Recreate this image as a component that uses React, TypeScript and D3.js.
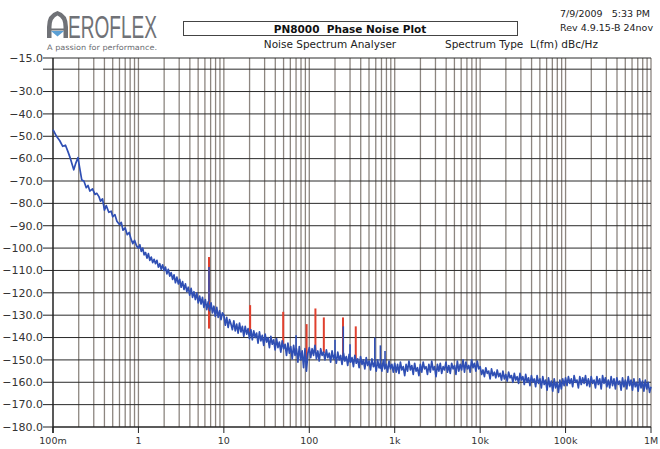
import React, { useRef, useEffect } from 'react';
import * as d3 from 'd3';

// y axis ticks (dBc/Hz); -20 gets a tick but no label
const yTicks = [-15, -20, -30, -40, -50, -60, -70, -80, -90, -100, -110, -120, -130, -140, -150, -160, -170, -180];
const yUnlabelled = [-20];
const xTickValues = [0.1, 1, 10, 100, 1e3, 1e4, 1e5, 1e6];
const xTickLabels = ['100m', '1', '10', '100', '1k', '10k', '100k', '1M'];

// first decade read point by point [Hz, dBc/Hz]
const traceLow: [number, number][] = [
    [0.1, -47], [0.11, -50], [0.12, -52], [0.13, -54.5], [0.14, -54], [0.15, -57], [0.16, -60],
    [0.175, -65], [0.185, -62], [0.196, -59.5], [0.205, -64], [0.217, -69.5], [0.23, -70],
    [0.245, -73], [0.257, -72], [0.27, -74.5], [0.29, -73.5], [0.31, -76], [0.325, -75.5],
    [0.345, -77], [0.36, -79], [0.38, -78], [0.4, -83], [0.42, -81], [0.45, -84], [0.48, -83.5],
    [0.5, -86], [0.53, -85], [0.56, -88], [0.6, -89.5], [0.63, -88.5], [0.66, -92], [0.7, -91],
    [0.74, -94], [0.78, -93], [0.82, -96], [0.86, -98], [0.9, -96.5], [0.95, -99],
];

// dense decades: 60 readings each, log-spaced inside the decade
const trace1to10 = [
    -100, -98.5, -101.5, -100, -103, -102, -104.5, -102.5, -105.5, -104,
    -106.5, -105, -107, -105.5, -108.5, -107, -109.5, -107.5, -110, -108.5,
    -111.5, -109.5, -112.5, -111, -114, -112, -115.5, -113, -116, -114,
    -117.5, -115, -118.5, -116, -119.5, -117.5, -121, -118, -122, -119.5,
    -123, -120, -124.5, -121.5, -125, -122, -126.5, -123, -127.5, -124,
    -128, -124.5, -129, -126, -130.5, -126.5, -131, -128, -132, -129,
];
const trace10to100 = [
    -130, -134.5, -131, -135.5, -132, -134, -136.5, -132.5, -137, -134,
    -138, -133.5, -137.5, -135, -139.5, -135, -138.5, -136, -140.5, -136.5,
    -141, -137, -140, -138, -142.5, -137.5, -141.5, -139, -143.5, -138.5,
    -142, -140, -144.5, -139.5, -143, -141, -145.5, -140.5, -144.5, -142,
    -146.5, -141.5, -145, -143, -148, -142.5, -147, -144, -149.5, -143.5,
    -148, -145, -151, -144, -150, -146, -153.5, -145, -155, -147,
];
const trace100to1k = [
    -144.5, -149, -145, -148, -143.5, -149.5, -146, -150.5, -145, -148,
    -146.5, -150, -145.5, -149, -147, -151, -146, -149.5, -147.5, -151.5,
    -146.5, -150, -148, -152, -147, -150.5, -148.5, -152.5, -147.5, -151,
    -149, -153, -148, -151.5, -149.5, -153.5, -148.5, -152, -150, -154,
    -149, -152.5, -150.5, -154.5, -149.5, -153, -151, -155, -150, -153.5,
    -151.5, -155, -150, -154, -152, -155.5, -150.5, -154, -152, -155.5,
];
const trace1kto10k = [
    -151.5, -155.5, -152, -156, -151, -154.5, -153, -157, -152, -155,
    -150.5, -154.5, -152.5, -156.5, -151.5, -155, -153.5, -157, -152, -155.5,
    -151, -154, -153, -156.5, -152, -155.5, -150.5, -154.5, -153, -157.5,
    -152, -155, -151.5, -156, -153, -154.5, -151, -155.5, -152.5, -156,
    -151.5, -154, -152.5, -156.5, -150.5, -155, -152, -154.5, -150, -155.5,
    -151, -154, -152.5, -155.5, -150, -153.5, -151.5, -155, -150.5, -154,
];
const trace10kto100k = [
    -153, -156.5, -154.5, -157.5, -153.5, -156, -155, -158.5, -154, -157,
    -155.5, -158, -154.5, -157.5, -156, -159, -155, -158.5, -156.5, -159.5,
    -155.5, -158, -157, -160, -156, -159, -157.5, -160.5, -156, -159,
    -157.5, -161, -156.5, -160, -158, -161.5, -157, -160, -158.5, -162,
    -157, -160.5, -158.5, -162.5, -157.5, -161, -159, -163.5, -158, -162,
    -159.5, -164, -158.5, -162.5, -160, -164.5, -159, -163, -158.5, -161.5,
];
const trace100kto1M = [
    -158, -161.5, -157.5, -160.5, -158.5, -162, -157, -160, -159, -162.5,
    -157.5, -161, -158, -160.5, -157, -161.5, -158.5, -162, -157.5, -160.5,
    -159, -162.5, -157.5, -161, -158.5, -163, -157, -160.5, -158, -162,
    -159, -162.5, -157.5, -161.5, -158.5, -163, -158, -161, -159.5, -163.5,
    -158, -162, -159, -163, -157.5, -161.5, -159, -163.5, -158.5, -162,
    -160, -164, -158.5, -162.5, -159.5, -164, -159, -163, -160, -164.5,
];
const traceEnd: [number, number] = [1e6, -162];

// spurs [Hz, top, bottom]
const redSpurs: [number, number, number][] = [
    [6.7, -104, -136], [20.3, -125.5, -138], [49.5, -128.5, -143], [93, -134, -150],
    [118, -127, -146], [148, -131, -147], [248, -131, -149], [350, -135, -150],
];
const blueSpurs: [number, number, number][] = [
    [6.7, -108.5, -124], [70, -139, -147], [200, -141, -149], [250, -135, -150],
    [300, -143, -151], [585, -140, -153], [680, -143.5, -154], [770, -146, -154],
];

const decade = (start: number, values: number[]): [number, number][] =>
    values.map((v, i) => [start * Math.pow(10, i / values.length), v]);

const W = 660;
const H = 449;
const font = 'DejaVu Sans, Verdana, sans-serif';

const App: React.FC = () => {
    const svgRef = useRef<SVGSVGElement>(null);

    useEffect(() => {
        if (!svgRef.current) return;
        const svg = d3.select(svgRef.current);
        svg.selectAll('*').remove();

        const x = d3.scaleLog().domain([0.1, 1e6]).range([53, 651]);
        const y = d3.scaleLinear().domain([-180, -15]).range([427, 58]);

        svg.append('rect').attr('width', W).attr('height', H).attr('fill', '#fff');

        // ---- header ----
        const logo = svg.append('g');
        logo.append('path')
            .attr('d', 'M47,38 L47,27 Q47,14 57.5,11 Q68,14 68,27 L68,38 L63.5,38 L63.5,27 Q63.5,18 57.5,15.5 Q51.5,18 51.5,27 L51.5,38 Z')
            .attr('fill', '#707277');
        logo.append('rect').attr('x', 49).attr('y', 28.5).attr('width', 17).attr('height', 2).attr('fill', '#707277');
        logo.append('path').attr('d', 'M51,31 L64,31 L57.5,36.5 Z').attr('fill', '#5b9fd4');
        logo.append('text')
            .attr('x', 68).attr('y', 37.5)
            .attr('font-family', 'Liberation Sans, Arial, sans-serif')
            .attr('font-size', 31)
            .attr('textLength', 89).attr('lengthAdjust', 'spacingAndGlyphs')
            .attr('fill', '#707277')
            .text('EROFLEX');
        logo.append('text')
            .attr('x', 47).attr('y', 50)
            .attr('font-family', font).attr('font-size', 7.5)
            .attr('textLength', 110).attr('lengthAdjust', 'spacingAndGlyphs')
            .attr('fill', '#6b6d72')
            .text('A passion for performance.');

        svg.append('rect')
            .attr('x', 183.5).attr('y', 21.5).attr('width', 334).attr('height', 14)
            .attr('fill', 'none').attr('stroke', '#444').attr('stroke-width', 1);
        svg.append('text')
            .attr('x', 350).attr('y', 32.5).attr('text-anchor', 'middle')
            .attr('font-family', font).attr('font-size', 10.5).attr('font-weight', 'bold')
            .attr('fill', '#111')
            .style('white-space', 'pre')
            .text('PN8000  Phase Noise Plot');
        svg.append('text')
            .attr('x', 330).attr('y', 48).attr('text-anchor', 'middle')
            .attr('font-family', font).attr('font-size', 10.5).attr('fill', '#222')
            .text('Noise Spectrum Analyser');
        svg.append('text')
            .attr('x', 445).attr('y', 48)
            .attr('font-family', font).attr('font-size', 10.5).attr('fill', '#222')
            .style('white-space', 'pre')
            .text('Spectrum Type  L(fm) dBc/Hz');
        svg.append('text')
            .attr('x', 560).attr('y', 17)
            .attr('font-family', font).attr('font-size', 9.5).attr('fill', '#222')
            .style('white-space', 'pre')
            .text('7/9/2009   5:33 PM');
        svg.append('text')
            .attr('x', 560).attr('y', 30.5)
            .attr('font-family', font).attr('font-size', 9.5).attr('fill', '#222')
            .text('Rev 4.9.15-B 24nov');

        // ---- grid ----
        const grid = svg.append('g');
        const minor: number[] = [];
        for (let d = 0.1; d < 1e6; d *= 10) {
            for (let k = 2; k <= 10; k++) minor.push(d * k);
        }
        grid.selectAll('line.v').data(minor).enter().append('line')
            .attr('x1', d => x(d)).attr('x2', d => x(d))
            .attr('y1', y(-15)).attr('y2', y(-180))
            .attr('stroke', '#8d8680').attr('stroke-width', 1.3);
        grid.selectAll('line.h').data(yTicks).enter().append('line')
            .attr('x1', x(0.1)).attr('x2', x(1e6))
            .attr('y1', d => y(d)).attr('y2', d => y(d))
            .attr('stroke', '#2a2a2a').attr('stroke-width', 1);

        // ---- y axis ----
        const yAxis = svg.append('g');
        yAxis.append('line')
            .attr('x1', x(0.1)).attr('x2', x(0.1)).attr('y1', y(-15)).attr('y2', y(-180) + 6)
            .attr('stroke', '#222').attr('stroke-width', 1.5);
        yAxis.selectAll('line.t').data(yTicks).enter().append('line')
            .attr('x1', x(0.1) - 10).attr('x2', x(0.1))
            .attr('y1', d => y(d)).attr('y2', d => y(d))
            .attr('stroke', '#222').attr('stroke-width', 1);
        yAxis.selectAll('text').data(yTicks.filter(t => !yUnlabelled.includes(t))).enter().append('text')
            .attr('x', x(0.1) - 10).attr('y', d => y(d)).attr('dy', '0.35em')
            .attr('text-anchor', 'end')
            .attr('font-family', font).attr('font-size', 11).attr('fill', '#333')
            .text(d => d3.format('.1f')(d));

        // ---- x axis ----
        const xAxis = svg.append('g');
        xAxis.append('line')
            .attr('x1', x(0.1)).attr('x2', x(1e6)).attr('y1', y(-180)).attr('y2', y(-180))
            .attr('stroke', '#222').attr('stroke-width', 1.2);
        xAxis.selectAll('line.t').data(xTickValues).enter().append('line')
            .attr('x1', d => x(d)).attr('x2', d => x(d))
            .attr('y1', y(-180)).attr('y2', y(-180) + 6)
            .attr('stroke', '#222').attr('stroke-width', 1);
        xAxis.selectAll('text').data(xTickValues).enter().append('text')
            .attr('x', d => x(d)).attr('y', 444)
            .attr('text-anchor', 'middle')
            .attr('font-family', font).attr('font-size', 9.5).attr('fill', '#333')
            .text((_, i) => xTickLabels[i]);

        // ---- spurs + trace ----
        const plot = svg.append('g');
        plot.selectAll('line.red').data(redSpurs).enter().append('line')
            .attr('x1', d => x(d[0])).attr('x2', d => x(d[0]))
            .attr('y1', d => y(d[1])).attr('y2', d => y(d[2]))
            .attr('stroke', '#e0402e').attr('stroke-width', 2);

        const trace: [number, number][] = [
            ...traceLow,
            ...decade(1, trace1to10),
            ...decade(10, trace10to100),
            ...decade(100, trace100to1k),
            ...decade(1e3, trace1kto10k),
            ...decade(1e4, trace10kto100k),
            ...decade(1e5, trace100kto1M),
            traceEnd,
        ];
        const line = d3.line<[number, number]>().x(d => x(d[0])).y(d => y(d[1]));
        plot.append('path')
            .attr('d', line(trace))
            .attr('fill', 'none')
            .attr('stroke', '#2f4fb4')
            .attr('stroke-width', 1.7)
            .attr('stroke-linejoin', 'round');

        plot.selectAll('line.blue').data(blueSpurs).enter().append('line')
            .attr('x1', d => x(d[0])).attr('x2', d => x(d[0]))
            .attr('y1', d => y(d[1])).attr('y2', d => y(d[2]))
            .attr('stroke', '#2f4fb4').attr('stroke-width', 1.6);
    }, []);

    return (
        <svg
            ref={svgRef}
            width={W}
            height={H}
            style={{ position: 'absolute', left: 0, top: 0, display: 'block' }}
        />
    );
};

export default App;
